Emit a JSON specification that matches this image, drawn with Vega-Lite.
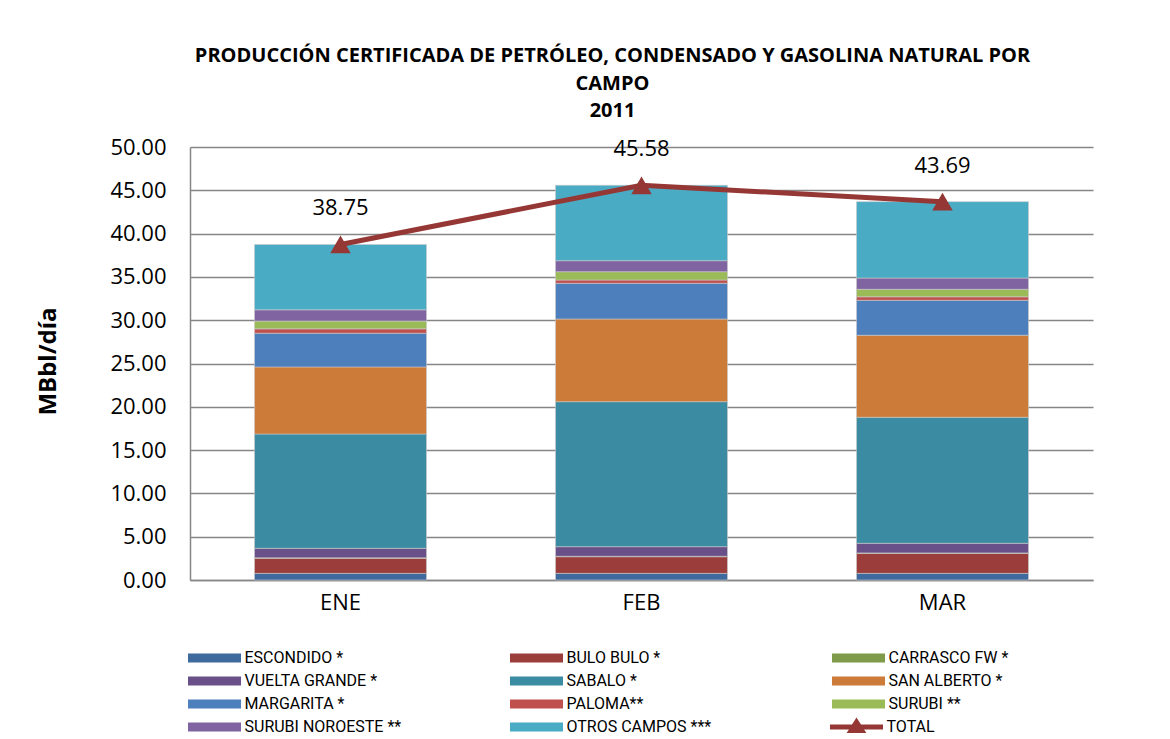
{
  "$schema": "https://vega.github.io/schema/vega-lite/v6.json",
  "width": 903,
  "height": 433,
  "autosize": {"type": "none"},
  "padding": {"left": 190, "top": 147, "right": 77, "bottom": 159},
  "background": "white",
  "config": {"view": {"stroke": null}},
  "title": {
    "text": ["PRODUCCIÓN CERTIFICADA DE PETRÓLEO, CONDENSADO Y GASOLINA NATURAL POR", "CAMPO", "2011"],
    "font": "Open Sans",
    "fontSize": 20,
    "fontWeight": "bold",
    "color": "black",
    "lineHeight": 27.5,
    "anchor": "middle",
    "dx": -29,
    "offset": 15
  },
  "datasets": {
    "campos": [
      {"mes": "ENE", "campo": "ESCONDIDO *", "orden": 1, "valor": 0.77},
      {"mes": "ENE", "campo": "BULO BULO *", "orden": 2, "valor": 1.74},
      {"mes": "ENE", "campo": "CARRASCO FW *", "orden": 3, "valor": 0.05},
      {"mes": "ENE", "campo": "VUELTA GRANDE *", "orden": 4, "valor": 1.10},
      {"mes": "ENE", "campo": "SABALO *", "orden": 5, "valor": 13.20},
      {"mes": "ENE", "campo": "SAN ALBERTO *", "orden": 6, "valor": 7.74},
      {"mes": "ENE", "campo": "MARGARITA *", "orden": 7, "valor": 3.90},
      {"mes": "ENE", "campo": "PALOMA**", "orden": 8, "valor": 0.50},
      {"mes": "ENE", "campo": "SURUBI **", "orden": 9, "valor": 0.90},
      {"mes": "ENE", "campo": "SURUBI NOROESTE **", "orden": 10, "valor": 1.30},
      {"mes": "ENE", "campo": "OTROS CAMPOS ***", "orden": 11, "valor": 7.55},
      {"mes": "FEB", "campo": "ESCONDIDO *", "orden": 1, "valor": 0.77},
      {"mes": "FEB", "campo": "BULO BULO *", "orden": 2, "valor": 1.92},
      {"mes": "FEB", "campo": "CARRASCO FW *", "orden": 3, "valor": 0.05},
      {"mes": "FEB", "campo": "VUELTA GRANDE *", "orden": 4, "valor": 1.11},
      {"mes": "FEB", "campo": "SABALO *", "orden": 5, "valor": 16.74},
      {"mes": "FEB", "campo": "SAN ALBERTO *", "orden": 6, "valor": 9.55},
      {"mes": "FEB", "campo": "MARGARITA *", "orden": 7, "valor": 4.12},
      {"mes": "FEB", "campo": "PALOMA**", "orden": 8, "valor": 0.38},
      {"mes": "FEB", "campo": "SURUBI **", "orden": 9, "valor": 0.96},
      {"mes": "FEB", "campo": "SURUBI NOROESTE **", "orden": 10, "valor": 1.27},
      {"mes": "FEB", "campo": "OTROS CAMPOS ***", "orden": 11, "valor": 8.71},
      {"mes": "MAR", "campo": "ESCONDIDO *", "orden": 1, "valor": 0.77},
      {"mes": "MAR", "campo": "BULO BULO *", "orden": 2, "valor": 2.31},
      {"mes": "MAR", "campo": "CARRASCO FW *", "orden": 3, "valor": 0.05},
      {"mes": "MAR", "campo": "VUELTA GRANDE *", "orden": 4, "valor": 1.11},
      {"mes": "MAR", "campo": "SABALO *", "orden": 5, "valor": 14.55},
      {"mes": "MAR", "campo": "SAN ALBERTO *", "orden": 6, "valor": 9.47},
      {"mes": "MAR", "campo": "MARGARITA *", "orden": 7, "valor": 4.04},
      {"mes": "MAR", "campo": "PALOMA**", "orden": 8, "valor": 0.40},
      {"mes": "MAR", "campo": "SURUBI **", "orden": 9, "valor": 0.87},
      {"mes": "MAR", "campo": "SURUBI NOROESTE **", "orden": 10, "valor": 1.30},
      {"mes": "MAR", "campo": "OTROS CAMPOS ***", "orden": 11, "valor": 8.82}
    ],
    "totales": [
      {"mes": "ENE", "serie": "TOTAL", "total": 38.75},
      {"mes": "FEB", "serie": "TOTAL", "total": 45.58},
      {"mes": "MAR", "serie": "TOTAL", "total": 43.69}
    ]
  },
  "encoding": {
    "x": {
      "field": "mes",
      "type": "nominal",
      "sort": ["ENE", "FEB", "MAR"],
      "scale": {"paddingInner": 0.4286, "paddingOuter": 0.2143},
      "axis": {
        "title": null,
        "labelAngle": 0,
        "labelFont": "Open Sans",
        "labelFontSize": 22,
        "labelColor": "black",
        "labelPadding": 12,
        "ticks": false,
        "domainColor": "#868686",
        "domainWidth": 1.5
      }
    }
  },
  "layer": [
    {
      "data": {"name": "campos"},
      "mark": {"type": "bar", "stroke": "#c9c9c9", "strokeWidth": 0.6},
      "encoding": {
        "y": {
          "field": "valor",
          "type": "quantitative",
          "stack": "zero",
          "scale": {"domain": [0, 50], "nice": false},
          "axis": {
            "title": "MBbl/día",
            "titleFont": "Open Sans",
            "titleFontSize": 24,
            "titleFontWeight": "bold",
            "titleColor": "black",
            "titleX": -142,
            "titleY": 214,
            "titleAngle": -90,
            "titleBaseline": "middle",
            "titleAlign": "center",
            "values": [0, 5, 10, 15, 20, 25, 30, 35, 40, 45, 50],
            "format": ".2f",
            "labelFont": "Open Sans",
            "labelFontSize": 22,
            "labelColor": "black",
            "labelPadding": 24,
            "ticks": false,
            "grid": true,
            "gridColor": "#868686",
            "gridWidth": 1.3,
            "domainColor": "#868686",
            "domainWidth": 1.5
          }
        },
        "color": {
          "field": "campo",
          "type": "nominal",
          "scale": {
            "domain": ["ESCONDIDO *", "BULO BULO *", "CARRASCO FW *", "VUELTA GRANDE *", "SABALO *", "SAN ALBERTO *", "MARGARITA *", "PALOMA**", "SURUBI **", "SURUBI NOROESTE **", "OTROS CAMPOS ***"],
            "range": ["#3E6A9E", "#9B3D3B", "#7F9A48", "#695089", "#3B8BA3", "#CC7B38", "#4D7FBD", "#C0504D", "#9BBB59", "#8064A2", "#4AABC5"]
          },
          "legend": {
            "title": null,
            "orient": "none",
            "direction": "horizontal",
            "legendX": 13.5,
            "legendY": 500,
            "columns": 3,
            "gridAlign": "all",
            "columnPadding": 108,
            "rowPadding": 4,
            "symbolSize": 484,
            "symbolType": "M-2.41,-0.41H2.41V0.41H-2.41Z",
            "symbolStrokeWidth": 0,
            "labelFont": "Roboto",
            "labelFontSize": 16,
            "labelColor": "black",
            "labelOffset": 19,
            "labelLimit": 300
          }
        },
        "order": {"field": "orden", "type": "quantitative"}
      }
    },
    {
      "data": {"name": "totales"},
      "mark": {"type": "line", "color": "#953735", "strokeWidth": 5},
      "encoding": {
        "y": {"field": "total", "type": "quantitative"}
      }
    },
    {
      "data": {"name": "totales"},
      "mark": {"type": "point", "shape": "triangle-up", "size": 420, "filled": true, "opacity": 1},
      "encoding": {
        "y": {"field": "total", "type": "quantitative"},
        "color": {
          "field": "serie",
          "type": "nominal",
          "scale": {"domain": ["TOTAL"], "range": ["#953735"]},
          "legend": {
            "title": null,
            "orient": "none",
            "legendX": 655.5,
            "legendY": 569,
            "symbolSize": 484,
            "symbolType": "M-2.41,-0.22H-0.41L0,-0.86L0.41,-0.22H2.41V0.22H0.69L0.9,0.55H-0.9L-0.69,0.22H-2.41Z",
            "symbolStrokeWidth": 0,
            "symbolOpacity": 1,
            "labelFont": "Roboto",
            "labelFontSize": 16,
            "labelColor": "black",
            "labelOffset": 19
          }
        }
      }
    },
    {
      "data": {"name": "totales"},
      "mark": {"type": "text", "font": "Open Sans", "fontSize": 22, "color": "black", "dy": -36, "baseline": "middle"},
      "encoding": {
        "y": {"field": "total", "type": "quantitative"},
        "text": {"field": "total", "type": "quantitative", "format": ".2f"}
      }
    }
  ],
  "resolve": {"scale": {"color": "independent"}, "legend": {"color": "independent"}}
}
